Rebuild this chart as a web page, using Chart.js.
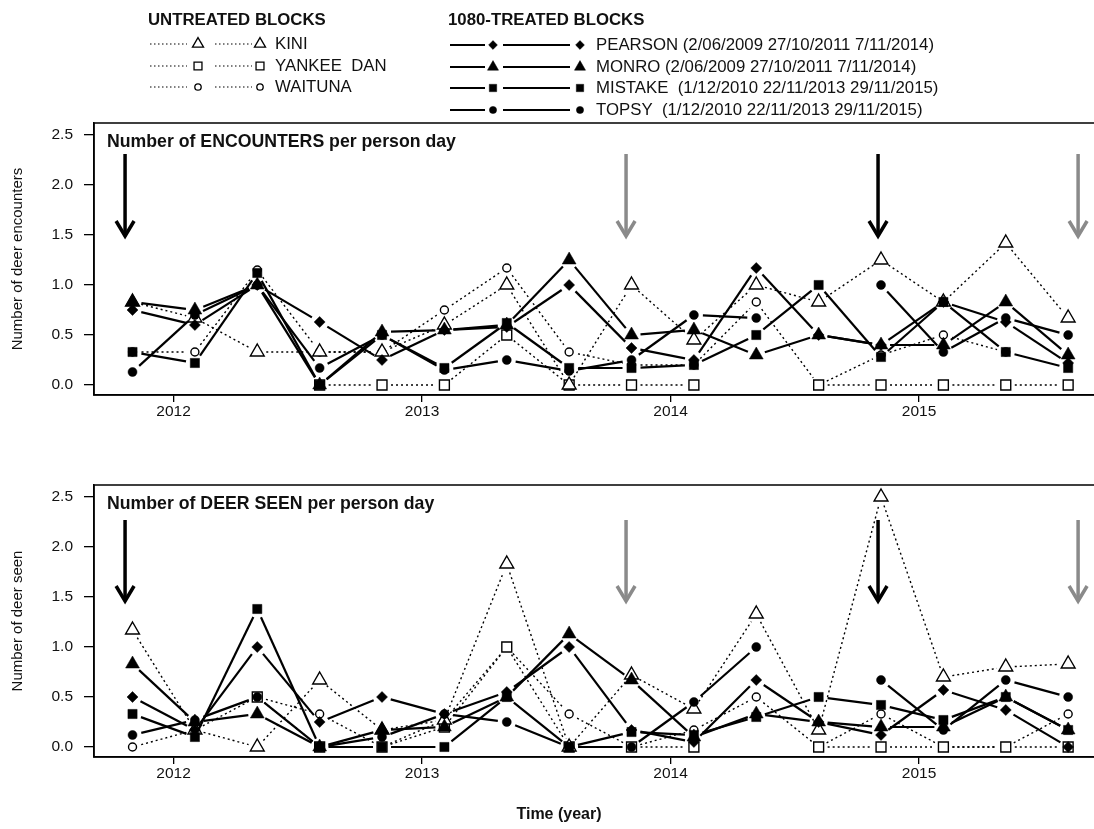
<!DOCTYPE html>
<html>
<head>
<meta charset="utf-8">
<script src="https://cdn.jsdelivr.net/npm/chart.js@4.4.1/dist/chart.umd.min.js"></script>
<style>
  body { margin: 0; background: #fff; }
  #wrap { position: relative; width: 1094px; height: 829px; overflow: hidden; }
  canvas { position: absolute; left: 0; }
  #encChart { top: 0; }
  #seenChart { top: 430px; }
</style>
</head>
<body>
<div id="wrap">
  <canvas id="encChart" width="1094" height="430"></canvas>
  <canvas id="seenChart" width="1094" height="399"></canvas>
</div>
<script>
// sampling times (decimal year), one per quarter
const xYears = [2011.835, 2012.086, 2012.337, 2012.588, 2012.839, 2013.090, 2013.341, 2013.592,
                2013.843, 2014.094, 2014.345, 2014.596, 2014.847, 2015.098, 2015.349, 2015.600];
const xTicks = [2012, 2013, 2014, 2015];
const yTicks = [0, 0.5, 1, 1.5, 2, 2.5];

const blockNames = ['KINI', 'YANKEE  DAN', 'WAITUNA', 'PEARSON', 'MONRO', 'MISTAKE', 'TOPSY'];
const treatDates = ['', '', '',
  '(2/06/2009 27/10/2011 7/11/2014)',
  '(2/06/2009 27/10/2011 7/11/2014)',
  ' (1/12/2010 22/11/2013 29/11/2015)',
  ' (1/12/2010 22/11/2013 29/11/2015)'];

// 1080 drops (arrows)
const arrowYears = [2011.805, 2013.821, 2014.835, 2015.640];
const arrowGrey = [false, true, false, true];

// Number of ENCOUNTERS per person day
const encKini    = [0.83, 0.67, 0.33, 0.33, 0.33, 0.60, 1.00, 0.00, 1.00, 0.45, 1.00, 0.83, 1.25, 0.83, 1.42, 0.67];
const encYankee  = [null, null, null, 0.00, 0.00, 0.00, 0.50, 0.00, 0.00, 0.00, null, 0.00, 0.00, 0.00, 0.00, 0.00];
const encWaituna = [0.33, 0.33, 1.15, 0.33, 0.33, 0.75, 1.17, 0.33, 0.20, 0.20, 0.83, 0.00, 0.30, 0.50, 0.33, null];
const encPearson = [0.75, 0.60, 1.00, 0.63, 0.25, 0.55, 0.58, 1.00, 0.37, 0.25, 1.17, 0.50, 0.40, 0.83, 0.63, 0.22];
const encMonro   = [0.83, 0.75, 1.00, 0.00, 0.53, 0.55, 0.60, 1.25, 0.50, 0.55, 0.30, 0.50, 0.40, 0.40, 0.83, 0.30];
const encMistake = [0.33, 0.22, 1.12, 0.00, 0.50, 0.17, 0.62, 0.17, 0.17, 0.20, 0.50, 1.00, 0.28, 0.83, 0.33, 0.17];
const encTopsy   = [0.13, 0.70, 1.00, 0.17, 0.50, 0.15, 0.25, 0.14, 0.25, 0.70, 0.67, null, 1.00, 0.33, 0.67, 0.50];

// Number of DEER SEEN per person day
const seenKini    = [1.17, 0.17, 0.00, 0.67, 0.17, 0.27, 1.83, 0.00, 0.72, 0.38, 1.33, 0.17, 2.50, 0.70, 0.80, 0.83];
const seenYankee  = [null, null, 0.50, 0.00, 0.00, 0.20, 1.00, 0.00, 0.00, 0.00, null, 0.00, 0.00, 0.00, 0.00, 0.00];
const seenWaituna = [0.00, 0.17, 0.50, 0.33, 0.00, 0.27, 1.00, 0.33, 0.00, 0.17, 0.50, 0.00, 0.33, 0.00, 0.00, 0.33];
const seenPearson = [0.50, 0.17, 1.00, 0.25, 0.50, 0.33, 0.55, 1.00, 0.17, 0.05, 0.67, 0.25, 0.12, 0.57, 0.37, 0.00];
const seenMonro   = [0.83, 0.25, 0.33, 0.00, 0.17, 0.20, 0.50, 1.13, 0.67, 0.10, 0.33, 0.25, 0.20, 0.20, 0.50, 0.17];
const seenMistake = [0.33, 0.10, 1.38, 0.00, 0.00, 0.00, 0.50, 0.00, 0.15, 0.12, 0.30, 0.50, 0.42, 0.27, 0.50, 0.17];
const seenTopsy   = [0.12, 0.27, 0.50, 0.00, 0.10, 0.33, 0.25, 0.00, 0.00, 0.45, 1.00, null, 0.67, 0.17, 0.67, 0.50];

const FONT = '"Liberation Sans", Arial, sans-serif';

// marker look for each block, same order as blockNames
const markers = [
  { style: 'triangle', r: 8,   fill: '#fff', dotted: true },
  { style: 'rect',     r: 7,   fill: '#fff', dotted: true },
  { style: 'circle',   r: 4,   fill: '#fff', dotted: true },
  { style: 'rectRot',  r: 5.5, fill: '#000', dotted: false },
  { style: 'triangle', r: 8,   fill: '#000', dotted: false },
  { style: 'rect',     r: 6.5, fill: '#000', dotted: false },
  { style: 'circle',   r: 4.5, fill: '#000', dotted: false }
];
const GAP = 9;

function makeDatasets(series) {
  return series.map((vals, i) => {
    const m = markers[i];
    return {
      label: blockNames[i],
      data: vals.map((v, k) => ({ x: xYears[k], y: v })),
      showLine: false,
      pointStyle: m.style,
      pointRadius: m.r,
      pointHoverRadius: m.r,
      pointBackgroundColor: m.fill,
      pointBorderColor: '#000',
      pointBorderWidth: m.dotted ? 1.4 : 0.5,
      lineDash: m.dotted ? [2, 3] : [],
      lineW: m.dotted ? 1.4 : 2.2,
      order: m.dotted ? 1 : 0
    };
  });
}

// R style type="b": segments stop short of the symbols
const gappedLines = {
  id: 'gappedLines',
  beforeDatasetsDraw(chart) {
    const ctx = chart.ctx;
    const a = chart.chartArea;
    ctx.save();
    ctx.beginPath();
    ctx.rect(a.left, a.top, a.right - a.left, a.bottom - a.top);
    ctx.clip();
    ctx.strokeStyle = '#000';
    chart.data.datasets.forEach((ds, i) => {
      const pts = chart.getDatasetMeta(i).data;
      ctx.lineWidth = ds.lineW;
      ctx.setLineDash(ds.lineDash);
      for (let k = 0; k < pts.length - 1; k++) {
        const p = pts[k], q = pts[k + 1];
        if (p.skip || q.skip) continue;
        const dx = q.x - p.x, dy = q.y - p.y;
        const len = Math.hypot(dx, dy);
        if (len <= 2 * GAP) continue;
        const ux = dx / len, uy = dy / len;
        ctx.beginPath();
        ctx.moveTo(p.x + ux * GAP, p.y + uy * GAP);
        ctx.lineTo(q.x - ux * GAP, q.y - uy * GAP);
        ctx.stroke();
      }
    });
    ctx.restore();
  }
};

// arrows, frame, panel heading and x label
const panelDecor = {
  id: 'panelDecor',
  afterDatasetsDraw(chart, args, opts) {
    const ctx = chart.ctx;
    const xs = chart.scales.x, ys = chart.scales.y;
    ctx.save();
    ctx.setLineDash([]);
    arrowYears.forEach((yr, i) => {
      const x = xs.getPixelForValue(yr);
      const y0 = ys.getPixelForValue(opts.arrowFrom);
      const y1 = ys.getPixelForValue(opts.arrowTo);
      ctx.strokeStyle = arrowGrey[i] ? '#8a8a8a' : '#000';
      ctx.lineWidth = 3.5;
      ctx.beginPath();
      ctx.moveTo(x, y0);
      ctx.lineTo(x, y1 - 1);
      ctx.stroke();
      ctx.beginPath();
      ctx.moveTo(x - 9, y1 - 15);
      ctx.lineTo(x, y1);
      ctx.lineTo(x + 9, y1 - 15);
      ctx.stroke();
    });
    const a = chart.chartArea;
    ctx.strokeStyle = '#000';
    ctx.lineWidth = 1.5;
    ctx.strokeRect(a.left, a.top, a.right - a.left + 5, a.bottom - a.top);
    ctx.fillStyle = '#111';
    ctx.font = 'bold 17.7px ' + FONT;
    ctx.textBaseline = 'middle';
    ctx.textAlign = 'left';
    ctx.fillText(opts.heading, a.left + 13, a.top + 19);
    if (opts.xLabel) {
      ctx.font = 'bold 16px ' + FONT;
      ctx.textAlign = 'center';
      ctx.fillText(opts.xLabel, 559, chart.height - 14);
    }
    ctx.restore();
  }
};

// two-group legend above the top panel
const blockLegend = {
  id: 'blockLegend',
  afterDraw(chart) {
    const ctx = chart.ctx;
    ctx.save();
    ctx.fillStyle = '#111';
    ctx.textBaseline = 'middle';
    ctx.textAlign = 'left';
    ctx.font = 'bold 16.8px ' + FONT;
    ctx.fillText('UNTREATED BLOCKS', 148, 20);
    ctx.fillText('1080-TREATED BLOCKS', 448, 20);

    const groups = [
      { idx: [0, 1, 2], rows: [44, 66, 87], l1: [150, 187], s1: 198, l2: [215, 252], s2: 260, tx: 275 },
      { idx: [3, 4, 5, 6], rows: [45, 67, 88, 110], l1: [450, 485], s1: 493, l2: [503, 570], s2: 580, tx: 596 }
    ];
    groups.forEach(g => {
      g.idx.forEach((bi, r) => {
        const m = markers[bi];
        const y = g.rows[r];
        ctx.strokeStyle = '#000';
        ctx.lineWidth = m.dotted ? 1.2 : 2;
        ctx.setLineDash(m.dotted ? [1.5, 2.5] : []);
        [g.l1, g.l2].forEach(seg => {
          ctx.beginPath();
          ctx.moveTo(seg[0], y);
          ctx.lineTo(seg[1], y);
          ctx.stroke();
        });
        ctx.setLineDash([]);
        ctx.fillStyle = m.fill;
        ctx.lineWidth = m.dotted ? 1.3 : 0.5;
        const opt = { pointStyle: m.style, radius: m.r * 0.8, rotation: 0, borderWidth: ctx.lineWidth };
        Chart.helpers.drawPoint(ctx, opt, g.s1, y);
        Chart.helpers.drawPoint(ctx, opt, g.s2, y);
        ctx.fillStyle = '#111';
        ctx.font = '16.8px ' + FONT;
        ctx.fillText(blockNames[bi] + (treatDates[bi] ? ' ' + treatDates[bi] : ''), g.tx, y);
      });
    });
    ctx.restore();
  }
};

function makePanel(canvasId, series, cfg) {
  return new Chart(document.getElementById(canvasId), {
    type: 'scatter',
    data: { datasets: makeDatasets(series) },
    options: {
      responsive: false,
      animation: false,
      layout: { autoPadding: false, padding: { top: cfg.padTop, left: 0, right: 0, bottom: 0 } },
      scales: {
        x: {
          type: 'linear',
          min: 2011.680,
          max: 2015.704,
          afterFit: s => { s.height = cfg.xHeight; s.paddingLeft = 0; s.paddingRight = 0; },
          afterBuildTicks: s => { s.ticks = xTicks.map(v => ({ value: v })); },
          grid: { drawOnChartArea: false, drawTicks: true, tickLength: 7, color: '#000', lineWidth: 1.3 },
          border: { display: true, color: '#000', width: 1.5 },
          ticks: { color: '#111', font: { family: FONT, size: 15.5 }, padding: 0, maxRotation: 0,
                   callback: v => String(v) }
        },
        y: {
          type: 'linear',
          min: -0.1,
          max: 2.62,
          afterFit: s => { s.width = 94; s.paddingTop = 0; s.paddingBottom = 0; },
          afterBuildTicks: s => { s.ticks = yTicks.map(v => ({ value: v })); },
          grid: { drawOnChartArea: false, drawTicks: true, tickLength: 10, color: '#000', lineWidth: 1.3 },
          border: { display: true, color: '#000', width: 1.5 },
          ticks: { color: '#111', font: { family: FONT, size: 15.5 }, padding: 11,
                   callback: v => v.toFixed(1) },
          title: { display: true, text: cfg.yTitle, color: '#111',
                   font: { family: FONT, size: 15 }, padding: { top: 9, bottom: 0 } }
        }
      },
      plugins: {
        legend: { display: false },
        tooltip: { enabled: false },
        panelDecor: { heading: cfg.heading, arrowFrom: cfg.arrowFrom, arrowTo: cfg.arrowTo,
                      xLabel: cfg.xLabel }
      }
    },
    plugins: cfg.withLegend ? [gappedLines, panelDecor, blockLegend] : [gappedLines, panelDecor]
  });
}

makePanel('encChart',
  [encKini, encYankee, encWaituna, encPearson, encMonro, encMistake, encTopsy],
  { padTop: 123, xHeight: 35, xLabel: '', withLegend: true,
    yTitle: 'Number of deer encounters', heading: 'Number of ENCOUNTERS per person day',
    arrowFrom: 2.31, arrowTo: 1.49 });

makePanel('seenChart',
  [seenKini, seenYankee, seenWaituna, seenPearson, seenMonro, seenMistake, seenTopsy],
  { padTop: 55, xHeight: 72, xLabel: 'Time (year)', withLegend: false,
    yTitle: 'Number of deer seen', heading: 'Number of DEER SEEN per person day',
    arrowFrom: 2.27, arrowTo: 1.46 });
</script>
</body>
</html>
